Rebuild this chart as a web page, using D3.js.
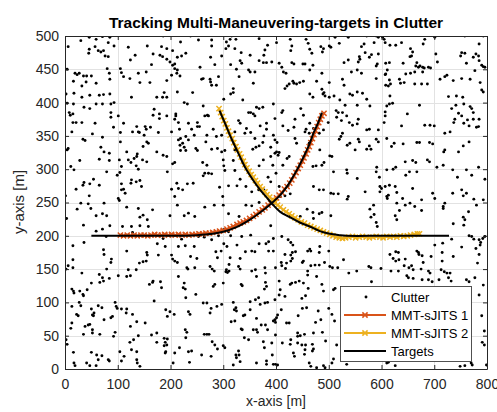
<!DOCTYPE html>
<html><head><meta charset="utf-8">
<script src="https://cdn.jsdelivr.net/npm/d3@7"></script>
<style>
body{margin:0;background:#fff}
svg{display:block}
text{font-family:"Liberation Sans",Arial,Helvetica,sans-serif}
</style>
</head><body>
<svg id="c" width="497" height="412"></svg>
<script>
const titleText = "Tracking Multi-Maneuvering-targets in Clutter";
const xLabel = "x-axis [m]";
const yLabel = "y-axis [m]";
const xTicks = [0,100,200,300,400,500,600,700,800];
const yTicks = [0,50,100,150,200,250,300,350,400,450,500];
const seriesNames = ["Clutter","MMT-sJITS 1","MMT-sJITS 2","Targets"];
const seriesColors = ["#000000","#D95319","#EDB120","#000000"];

const clutter = [
[6,484],[30,493],[46,498],[59,495],[71,499],[85,498],[82,490],[93,485],[57,484],[46,480],[45,474],[63,478],[68,476],[73,478],[76,470],[82,469],[120,483],[133,471],[156,485],[124,464],[167,473],[183,484],[193,481],[185,469],[180,471],[193,465],[164,457],[186,500],[199,461],[204,478],[204,456],[208,458],[213,468],[219,491],[221,470],[229,474],[238,500],[253,494],[256,453],[278,494],[278,485],[276,468],[284,457],[297,470],[306,491],[310,485],[313,495],[316,500],[305,481],[322,481],[324,495],[334,475],[332,463],[335,459],[314,457],[351,471],[368,496],[379,479],[384,486],[377,471],[368,463],[376,460],[382,460],[392,461],
[4,450],[19,444],[23,442],[27,444],[35,440],[41,440],[50,440],[16,432],[40,431],[32,425],[59,429],[84,444],[85,435],[80,451],[105,451],[107,445],[111,439],[123,436],[139,444],[154,446],[142,430],[161,430],[193,433],[202,441],[212,444],[218,440],[208,451],[213,449],[259,435],[262,436],[275,435],[276,431],[278,426],[287,426],[291,439],[325,450],[330,439],[348,449],[351,446],[360,446],[357,429],[319,421],
[401,490],[427,495],[430,485],[428,478],[457,495],[461,489],[464,480],[468,474],[485,484],[490,481],[488,476],[501,485],[504,483],[512,498],[520,489],[537,498],[572,500],[590,500],[594,498],[562,484],[567,488],[586,490],[602,498],[605,495],[607,490],[616,486],[627,486],[638,490],[655,481],[659,476],[657,470],[654,469],[679,488],[682,495],[701,498],[758,500],[793,500],[785,488],[703,473],[706,461],[758,474],[750,470],[752,475],[761,459],[774,468],[779,473],[784,470],[785,463],[793,454],[790,456],[796,453],[406,459],[411,453],[414,446],[419,444],[430,460],[434,458],[451,458],[455,458],[470,456],[464,449],[487,444],[477,432],[501,430],[487,420],[526,435],[529,426],[529,460],[537,464],[556,461],[559,465],[558,469],[569,475],[577,468],[581,472],[594,473],[592,458],[590,455],[543,446],[554,449],[562,444],[590,436],[608,459],[615,460],[611,449],[608,443],[607,442],[615,434],[608,426],[613,425],[617,428],[634,435],[636,429],[643,430],[641,459],[646,443],[655,444],[663,446],[665,455],[667,460],[670,453],[673,455],[678,453],[681,452],[689,453],[693,452],[678,446],[663,428],[676,428],[687,428],[711,435],[720,439],[724,441],[736,433],[752,436],[768,435],[777,448],[787,430],[790,419],[417,421],[421,425],[425,428],[432,432],[434,429],[439,428],[445,430],[452,432],
[2,413],[17,414],[32,408],[47,411],[65,411],[73,412],[85,413],[126,408],[174,408],[188,415],[185,408],[193,408],[213,416],[242,415],[301,405],[314,413],[319,415],[337,404],
[4,399],[16,398],[36,393],[47,391],[59,398],[71,398],[87,398],[93,400],[169,390],[210,383],[226,400],[232,398],[262,395],[270,381],[352,385],[363,393],[368,391],[375,393],[395,398],[357,383],
[8,385],[15,383],[10,381],[15,370],[21,370],[32,370],[57,369],[87,385],[87,378],[101,380],[111,369],[136,364],[139,356],[152,364],[167,381],[179,383],[179,376],[193,380],[210,380],[208,375],[215,370],[234,369],[240,360],[251,370],[255,364],[265,380],[272,380],[329,373],[332,369],[344,361],[348,385],[360,380],[370,365],[382,369],[398,376],
[13,356],[34,345],[38,343],[52,353],[71,348],[92,363],[105,355],[128,356],[141,355],[150,351],[154,360],[162,363],[177,355],[202,356],[217,360],[219,346],[229,349],[234,344],[245,351],[251,364],[269,351],[267,341],[281,360],[287,349],[297,351],[322,356],[341,354],[352,355],[360,346],[377,350],[382,360],[395,351],
[4,329],[6,331],[68,333],[74,326],[84,324],[105,341],[117,326],[155,341],[158,339],[148,334],[174,326],[186,321],[193,319],[215,344],[218,336],[219,328],[223,339],[226,333],[229,328],[248,331],[251,328],[278,330],[289,331],[297,326],[303,328],[322,329],[356,330],[362,333],[368,335],[375,340],[390,333],[398,324],
[11,304],[17,299],[28,313],[65,315],[84,313],[103,314],[107,304],[120,314],[125,310],[131,316],[135,305],[139,300],[136,319],[137,323],[147,314],[155,311],[194,296],[204,308],[208,310],[261,310],[269,306],[265,294],[278,293],[300,314],[301,305],[303,298],[319,313],[322,298],[368,305],[376,314],[390,319],[394,306],
[21,270],[36,280],[34,276],[47,278],[54,285],[46,260],[65,276],[79,296],[99,291],[104,295],[107,278],[111,270],[125,279],[126,284],[135,281],[142,283],[145,274],[107,269],[114,264],[212,279],[202,270],[215,271],[223,269],[232,278],[243,279],[262,290],[272,294],[293,273],[299,259],[310,275],[326,275],[332,285],[343,274],[354,266],[367,269],[377,269],[385,288],[390,281],
[1,260],[23,240],[30,249],[44,248],[49,241],[59,230],[74,249],[71,233],[79,230],[101,256],[103,253],[117,243],[139,241],[142,228],[148,231],[156,224],[166,239],[199,230],[208,259],[213,246],[226,230],[234,234],[246,229],[265,243],[283,246],[300,246],[310,233],[330,229],[343,246],[354,245],[368,250],[398,249],
[3,226],[15,185],[35,216],[36,190],[59,207],[71,210],[78,199],[85,215],[109,214],[126,214],[128,205],[142,215],[158,214],[175,188],[186,196],[190,184],[215,184],[221,195],[228,185],[245,184],[253,199],[264,198],[278,194],[291,200],[301,209],[310,206],[314,200],[301,188],[307,184],[326,186],[335,199],[352,201],[368,188],[381,188],[386,191],[395,196],[390,215],
[464,413],[470,408],[489,413],[493,410],[491,415],[501,408],[510,410],[521,404],[540,413],[545,411],[554,416],[564,414],[572,405],[578,395],[554,396],[531,396],[447,391],[413,388],[411,385],[616,410],[615,398],[610,395],[621,399],[607,386],[607,380],[672,396],[727,409],[742,410],[754,408],[741,396],[733,391],[756,398],[768,394],[771,391],[774,385],[793,416],[746,384],[763,374],[774,375],[785,375],[752,380],
[436,375],[452,381],[464,369],[457,360],[455,356],[514,388],[518,385],[526,385],[515,378],[524,373],[534,380],[539,370],[545,366],[556,375],[554,368],[572,359],[577,360],[594,359],[605,370],[649,383],[638,365],[682,366],[692,366],[700,365],[720,354],[730,356],[739,375],[737,370],[756,369],[766,365],[780,363],[784,364],[413,365],[423,358],[434,363],[398,344],[402,340],[401,326],[404,321],[406,325],[471,361],[463,354],[482,354],[499,370],[490,359],
[436,346],[439,339],[463,339],[483,329],[502,320],[506,319],[520,345],[523,349],[526,354],[535,336],[550,329],[540,339],[556,345],[558,341],[572,330],[577,335],[580,330],[590,345],[594,341],[610,346],[619,334],[624,339],[641,338],[667,340],[672,340],[691,340],[697,338],[720,329],[718,326],[746,326],[766,341],[755,335],
[413,306],[421,316],[425,319],[400,294],[470,304],[476,305],[487,306],[491,310],[509,296],[534,299],[535,294],[554,286],[591,303],[590,296],[596,288],[610,299],[622,300],[627,303],[645,311],[646,291],[653,296],[659,313],[665,310],[667,296],[687,314],[691,311],[705,303],[717,306],[735,299],[744,288],[761,299],[771,291],[784,303],[796,285],
[423,275],[406,274],[408,259],[427,263],[417,260],[471,274],[482,269],[490,269],[504,264],[509,263],[518,263],[537,259],[535,255],[569,266],[597,274],[600,271],[597,266],[607,274],[615,276],[613,261],[610,259],[611,256],[626,274],[629,265],[640,256],[645,246],[629,249],[659,271],[676,254],[697,264],[701,256],[720,249],[717,244],[735,264],[752,269],[755,260],[761,264],[775,255],[780,246],[793,254],
[427,230],[446,229],[459,240],[470,235],[471,226],[482,233],[487,235],[504,230],[578,240],[585,246],[580,228],[590,220],[592,214],[586,232],[626,230],[629,224],[634,238],[654,249],[663,244],[676,238],[717,241],[736,218],[755,228],[758,224],[756,216],[765,236],[411,199],[423,194],[428,190],[432,186],[464,180],[483,184],[766,200],[771,199],[775,195],[785,194],[788,190],[792,196],[796,199],[787,186],[779,181],[733,195],[752,183],[716,189],[701,186],
[15,164],[6,155],[2,150],[15,152],[73,179],[74,172],[88,165],[87,160],[117,177],[155,175],[156,171],[141,159],[148,161],[154,162],[177,171],[202,171],[204,165],[208,162],[213,160],[238,169],[250,166],[231,152],[233,150],[246,152],[79,150],[65,142],[71,137],[73,132],[66,130],[84,136],[50,129],[42,119],[32,144],[13,120],[16,117],[17,114],[28,117],[34,112],[35,110],[101,140],[117,139],[124,140],[120,149],[135,149],[160,127],[166,130],[167,132],[181,131],[183,122],[215,139],[226,129],[224,122],[228,120],[229,107],[248,112],[169,102],
[13,94],[27,100],[30,95],[22,82],[25,80],[50,90],[52,81],[55,84],[54,80],[63,95],[70,92],[74,74],[87,77],[90,79],[95,100],[97,94],[99,91],[107,90],[117,90],[116,84],[128,82],[136,71],[152,69],[124,64],[13,69],[11,61],[38,64],[44,66],[47,67],[35,52],[52,59],[52,54],[66,52],[92,49],[95,55],[164,51],[174,54],[139,50],[130,44],[123,40],[126,29],[136,26],[136,14],[137,9],[142,4],[174,40],[188,46],[190,40],[188,35],[194,45],[193,36],[191,26],[190,24],[208,24],[217,32],[205,9],[234,26],[240,27],[236,10],[259,21],[228,59],[231,55],[229,47],[264,52],[191,89],[194,79],[199,86],[207,82],[234,86],[237,82],[262,99],[2,44],[4,37],[16,25],[50,25],[60,21],[63,14],[70,20],[82,14],[84,12],[104,26],[107,12],[112,19],[17,9],[19,5],[41,9],[47,5],[59,5],
[286,176],[296,177],[289,167],[342,176],[354,177],[360,176],[386,177],[395,177],[417,172],[428,171],[431,175],[437,176],[460,177],[466,177],[482,175],[500,177],[275,154],[279,150],[283,147],[306,149],[311,147],[308,145],[305,146],[313,167],[311,157],[329,154],[332,150],[332,166],[354,147],[361,149],[363,139],[379,152],[380,144],[380,130],[382,124],[378,120],[399,152],[410,160],[411,155],[418,151],[420,159],[428,162],[431,166],[452,162],[450,160],[466,155],[474,156],[482,156],[492,160],[502,154],[507,152],[517,152],[528,164],[460,147],[460,141],[477,139],[281,124],[284,127],[300,129],[334,127],[336,125],[406,132],[408,119],[406,111],[417,109],[427,127],[430,129],[437,130],[444,132],[452,129],[461,121],[449,106],[456,110],[487,127],[490,117],[509,119],[512,121],
[269,99],[277,91],[275,84],[288,94],[297,97],[319,100],[324,92],[321,89],[325,87],[338,80],[341,81],[351,101],[351,89],[361,104],[367,107],[370,97],[379,99],[384,100],[398,104],[410,89],[403,81],[401,77],[398,74],[395,72],[399,70],[363,76],[315,71],[322,72],[334,60],[336,59],[357,59],[363,59],[365,55],[372,66],[380,66],[384,59],[420,69],[425,69],[442,80],[450,91],[458,92],[480,87],[475,70],[485,74],[500,91],[506,82],[511,72],[269,52],[273,52],[279,41],[284,36],[289,30],[300,35],[303,32],[277,19],[340,47],[348,44],[376,41],[378,32],[392,39],[399,51],[412,39],[428,44],[427,37],[441,54],[441,49],[446,50],[454,52],[441,39],[449,36],[456,36],[455,29],[469,37],[471,30],[469,27],[454,22],[433,24],[435,19],[393,21],[382,12],[382,7],[395,7],[399,7],[403,6],[324,21],[325,17],[329,27],[330,21],[332,11],[319,6],[363,9],[463,9],[466,4],[477,2],[490,5],[493,2],[488,55],[494,42],[515,36],[509,15],[506,9],[471,54],
[616,172],[627,176],[632,175],[622,166],[627,162],[633,164],[645,165],[667,177],[671,172],[677,170],[679,160],[694,169],[670,175],[715,175],[736,169],[715,162],[713,149],[719,146],[724,144],[730,144],[727,137],[732,132],[576,154],[580,152],[553,147],[538,144],[599,151],[618,147],[632,147],[643,155],[652,152],[657,155],[660,149],[648,140],[651,137],[660,136],[675,150],[689,147],[692,144],[677,134],[689,134],[696,131],[709,134],[785,172],[782,159],[777,137],[793,126],[761,134],[766,131],[581,131],[785,111],[790,80],[795,57],[791,40],[795,36],[799,6],[770,9],[772,6],[749,4],[758,5],[610,9],[613,10],[626,5],[534,7]
];

const target1 = [[50,200],[100,200],[150,200],[200,200],[250,201],[280,203],[300,206],[325,213],[350,224],[370,235],[389,247],[408,261],[420,273],[437,295],[452,318],[463,337],[471,354],[480,370],[487,385]];
const target2 = [[293,388],[300,375],[306,364],[316,345],[325,330],[335,313],[344,299],[357,283],[370,269],[383,257],[395,246],[408,236],[426,228],[445,220],[464,214],[483,207],[502,203],[520,201],[534,200],[600,200],[650,200],[728,200]];

const est1 = [[105,201],[111,200],[118,201],[124,200],[131,201],[137,200],[144,201],[150,201],[157,200],[163,201],[170,202],[176,201],[183,201],[189,202],[196,201],[202,202],[209,201],[215,202],[222,201],[228,202],[235,201],[241,202],[248,202],[254,203],[261,203],[267,204],[274,204],[280,205],[287,206],[293,207],[300,208],[307,210],[313,212],[319,214],[326,217],[332,219],[338,221],[344,223],[350,226],[357,229],[362,232],[368,236],[374,239],[379,242],[385,246],[390,249],[396,253],[401,257],[406,261],[411,265],[416,270],[421,274],[426,279],[430,284],[434,290],[438,295],[442,301],[446,306],[450,312],[453,317],[457,323],[460,329],[463,334],[466,340],[469,346],[472,352],[475,358],[478,364],[481,370],[484,375],[487,380],[491,384]];
const est2 = [[292,391],[295,385],[298,379],[301,373],[304,368],[307,362],[310,357],[313,351],[317,346],[320,340],[324,334],[327,329],[331,323],[334,318],[338,312],[341,307],[345,302],[349,297],[353,292],[357,288],[361,283],[365,279],[370,274],[374,270],[379,266],[383,262],[388,258],[393,254],[398,250],[403,246],[408,243],[414,239],[419,236],[425,233],[430,230],[436,227],[442,224],[448,221],[454,219],[460,216],[466,214],[472,212],[478,210],[484,208],[490,206],[496,204],[502,202],[508,200],[514,198],[520,197],[526,196],[532,197],[538,198],[545,199],[551,197],[558,198],[564,199],[571,198],[577,197],[584,198],[590,199],[597,198],[603,197],[610,199],[616,198],[623,199],[629,198],[636,200],[642,199],[649,200],[655,201],[662,202],[668,203],[672,203]];

const svg = d3.select("#c");
const L = 65, R = 487, T = 36, B = 369;
const x = d3.scaleLinear().domain([0,800]).range([L,R]);
const y = d3.scaleLinear().domain([0,500]).range([B,T]);
const axisCol = "#262626";

svg.append("rect").attr("width",497).attr("height",412).attr("fill","#fff");

svg.append("defs").append("clipPath").attr("id","clip")
  .append("rect").attr("x",L).attr("y",T).attr("width",R-L).attr("height",B-T);

// grid
const grid = svg.append("g");
grid.selectAll(".gx").data(xTicks.slice(1,-1)).join("line")
  .attr("x1",d=>Math.round(x(d))+0.5).attr("x2",d=>Math.round(x(d))+0.5)
  .attr("y1",T).attr("y2",B).attr("stroke","#e2e2e2").attr("stroke-width",1);
grid.selectAll(".gy").data(yTicks.slice(1,-1)).join("line")
  .attr("y1",d=>Math.round(y(d))+0.5).attr("y2",d=>Math.round(y(d))+0.5)
  .attr("x1",L).attr("x2",R).attr("stroke","#e2e2e2").attr("stroke-width",1);

const plot = svg.append("g").attr("clip-path","url(#clip)");

// clutter
plot.append("g").selectAll("circle").data(clutter).join("circle")
  .attr("cx",d=>x(d[0])).attr("cy",d=>y(d[1])).attr("r",1.45).attr("fill",seriesColors[0]);

const line = d3.line().x(d=>x(d[0])).y(d=>y(d[1]));
const xMark = (s)=>`M${-s},${-s}L${s},${s}M${-s},${s}L${s},${-s}`;

function drawEst(data,color){
  const g = plot.append("g");
  g.append("path").datum(data).attr("d",line).attr("fill","none").attr("stroke",color).attr("stroke-width",2);
  g.selectAll("path.m").data(data).join("path").attr("class","m")
    .attr("transform",d=>`translate(${x(d[0])},${y(d[1])})`)
    .attr("d",xMark(2.6)).attr("stroke",color).attr("stroke-width",1.5).attr("fill","none");
}
drawEst(est1,seriesColors[1]);
drawEst(est2,seriesColors[2]);

[target1,target2].forEach(t=>{
  plot.append("path").datum(t).attr("d",line.curve(d3.curveCatmullRom)).attr("fill","none")
    .attr("stroke",seriesColors[3]).attr("stroke-width",2);
});

// axes
const fs = "14px";
const ax = svg.append("g").attr("transform",`translate(0,${B})`)
  .call(d3.axisBottom(x).tickValues(xTicks).tickSizeInner(-4).tickSizeOuter(0).tickPadding(10));
const ay = svg.append("g").attr("transform",`translate(${L},0)`)
  .call(d3.axisLeft(y).tickValues(yTicks).tickSizeInner(-4).tickSizeOuter(0).tickPadding(6));
const at = svg.append("g").attr("transform",`translate(0,${T})`)
  .call(d3.axisTop(x).tickValues(xTicks).tickSizeInner(-4).tickSizeOuter(0).tickFormat(""));
const ar = svg.append("g").attr("transform",`translate(${R},0)`)
  .call(d3.axisRight(y).tickValues(yTicks).tickSizeInner(-4).tickSizeOuter(0).tickFormat(""));
[ax,ay,at,ar].forEach(g=>{
  g.selectAll("path").attr("stroke",axisCol);
  g.selectAll("line").attr("stroke",axisCol);
  g.selectAll("text").attr("fill",axisCol).style("font-size",fs).style("font-family",'"Liberation Sans",Arial,sans-serif');
});

// title and labels
svg.append("text").attr("x",276).attr("y",28).attr("text-anchor","middle")
  .style("font-size","15.5px").style("font-weight","bold").attr("fill","#000").text(titleText);
svg.append("text").attr("x",276).attr("y",405.5).attr("text-anchor","middle")
  .style("font-size","14px").attr("fill",axisCol).text(xLabel);
svg.append("text").attr("transform","translate(24,202) rotate(-90)").attr("text-anchor","middle")
  .style("font-size","15px").attr("fill",axisCol).text(yLabel);

// legend
const lg = svg.append("g");
lg.append("rect").attr("x",340.5).attr("y",286.5).attr("width",131).attr("height",75)
  .attr("fill","#fff").attr("stroke",axisCol).attr("stroke-width",0.8);
const ly = [297,315,333,351];
seriesNames.forEach((n,i)=>{
  const yy = ly[i];
  if(i===0){
    lg.append("circle").attr("cx",366).attr("cy",yy).attr("r",1.45).attr("fill",seriesColors[0]);
  } else {
    lg.append("line").attr("x1",344).attr("x2",386).attr("y1",yy).attr("y2",yy)
      .attr("stroke",seriesColors[i]).attr("stroke-width",2);
    if(i<3){
      lg.append("path").attr("transform",`translate(365,${yy})`).attr("d",xMark(2.6))
        .attr("stroke",seriesColors[i]).attr("stroke-width",1.5);
    }
  }
  lg.append("text").attr("x",391).attr("y",yy).attr("dy","0.36em")
    .style("font-size","13px").attr("fill","#000").text(n);
});
</script>
</body></html>
